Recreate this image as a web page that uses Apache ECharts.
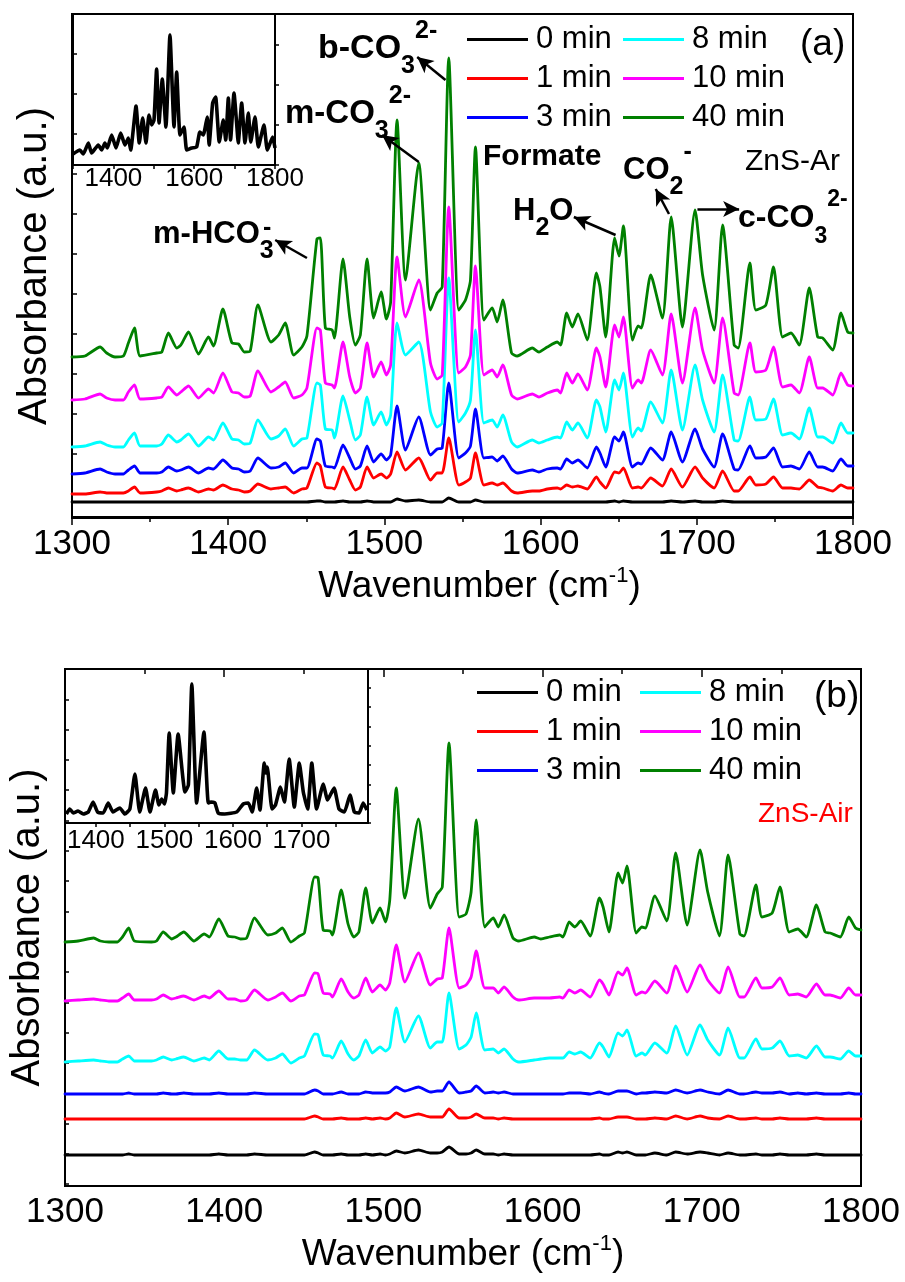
<!DOCTYPE html>
<html>
<head>
<meta charset="utf-8">
<title>In situ DRIFTS spectra of ZnS</title>
<script src="https://cdn.jsdelivr.net/npm/echarts@6.0.0/dist/echarts.min.js"></script>
<style>
  html, body { margin: 0; padding: 0; background: #ffffff; }
  #chart { width: 905px; height: 1282px; }
</style>
</head>
<body>
<div id="chart"></div>
<script>
// Wavenumber sampling (cm-1) shared by every spectrum of both panels.
const wavenumber = [
  1300, 1308.3, 1318, 1322.2, 1327.6, 1332.9, 1336.1, 1340, 1343.6, 1354.3,
  1357.5, 1361.7, 1367.1, 1369.7, 1374.6, 1381, 1387.4, 1390.6, 1396.6, 1402.4,
  1406.6, 1410.3, 1414.1, 1419, 1427.4, 1432.3, 1436.5, 1441.9, 1447.2, 1450.4,
  1456.8, 1459, 1462.2, 1466.5, 1468, 1473.5, 1477.8, 1481.4, 1484.6, 1488.9,
  1493.1, 1497.9, 1501.3, 1504, 1508.1, 1513.5, 1522, 1529.5, 1533.8, 1537,
  1541.2, 1547.6, 1551.9, 1555.1, 1558.3, 1563.7, 1569, 1572.2, 1575.8, 1581.4,
  1585, 1594.7, 1598.9, 1604.3, 1610.7, 1612.8, 1616.7, 1620.3, 1623.9, 1629.9,
  1635.7, 1638, 1641.7, 1647.4, 1650.2, 1653, 1658.8, 1662.4, 1664.5, 1670.5,
  1678, 1683.6, 1690.8, 1698.9, 1703.7, 1711.1, 1716.5, 1723.9, 1726.5, 1734,
  1737.8, 1744.2, 1749.1, 1754.9, 1760.3, 1765.6, 1772, 1777.4, 1780.6, 1787,
  1792.3, 1796.6, 1800
];

// ZnS-Ar: absorbance (arbitrary units, spectra stacked with an offset).
const ar0min = [
  15,15,15,15,15,15,15,15,15,15, 15,15,15,15,15,15,15,15,15,15,
  15,15,15,15,15,15,15,15,15,15, 16,16,15,15,15,16,15,15,15,16,
  15,15,15,15,18,16,17,15,15,15, 19,15,15,15,17,15,15,15,15,15,
  15,15,15,15,15,15,15,15,15,15, 15,15,15,16,15,16,15,15,15,15,
  15,16,15,16,15,15,16,15,15,15, 15,15,15,15,15,15,15,15,15,15,
  15,15,15
];
const ar1min = [
  23,23,25,24,24,24,26,30,24,25, 26,29,26,27,29,25,28,27,32,28,
  27,25,26,33,28,29,30,24,28,29, 54,51,30,29,28,50,37,27,30,50,
  39,43,39,43,65,47,59,37,44,44, 79,32,35,39,64,32,34,32,34,26,
  24,26,26,28,29,28,32,30,31,28, 40,35,29,45,44,49,29,30,29,39,
  31,48,30,50,39,29,46,26,26,40, 32,33,40,29,29,28,37,30,29,26,
  32,29,29
];
const ar3min = [
  43,44,48,45,43,43,47,51,44,44, 45,50,46,47,50,44,49,48,57,49,
  48,45,46,59,49,50,54,44,49,49, 78,76,51,50,49,72,59,48,51,71,
  55,63,57,62,111,67,100,62,68,69, 134,59,64,71,108,59,60,56,61,48,
  44,47,45,48,49,48,58,54,57,49, 70,64,50,80,76,85,50,54,53,69,
  57,85,55,88,68,50,83,48,47,71, 59,60,69,50,51,48,65,50,50,46,
  58,51,51
];
const ar8min = [
  70,71,75,72,70,70,77,84,71,71, 73,82,75,77,83,71,80,77,94,78,
  77,73,74,97,78,81,88,71,78,79, 134,132,88,87,79,121,97,77,82,120,
  92,105,92,102,194,162,175,105,90,94, 239,95,104,117,187,94,97,90,102,75,
  70,77,74,77,80,79,95,87,94,79, 117,110,85,137,127,144,80,89,86,115,
  94,147,87,152,117,85,142,77,76,120, 97,98,118,82,84,78,109,80,80,74,
  94,84,84
];
const ar10min = [
  117,118,123,119,117,117,125,132,118,119, 120,130,122,125,131,119,128,124,144,125,
  124,120,121,146,125,130,135,119,122,129, 189,187,134,132,129,175,140,124,129,174,
  140,155,142,152,260,200,237,154,138,142, 310,144,150,162,251,142,147,140,152,122,
  118,123,120,124,127,124,144,134,143,127, 169,160,130,192,180,200,129,137,134,167,
  142,203,134,209,167,134,199,124,122,174, 145,147,170,130,132,124,160,129,129,122,
  144,132,131
];
const ar40min = [
  160,161,170,164,160,161,174,189,161,164, 165,184,169,172,185,163,180,171,208,174,
  173,165,166,212,175,182,194,162,170,181, 278,279,189,187,179,258,200,172,182,258,
  199,225,198,215,397,237,354,207,224,230, 459,207,217,237,370,197,209,195,217,164,
  161,169,165,170,175,172,204,190,203,177, 244,230,180,279,261,291,177,191,189,242,
  199,300,190,307,242,187,292,172,169,254, 207,212,250,180,184,172,229,180,179,167,
  204,185,184
];

// ZnS-Air: absorbance (arbitrary units, spectra stacked with an offset).
const air0min = [
  37,37,37,37,37,37,37,38,37,37, 37,37,37,37,37,37,37,37,38,37,
  37,37,37,38,37,37,37,37,37,37, 40,39,37,37,37,38,37,37,37,38,
  37,38,37,38,41,39,42,39,39,40, 45,38,38,39,42,38,38,37,38,37,
  37,37,37,37,37,37,37,37,37,37, 38,37,37,40,39,40,37,37,37,39,
  37,40,38,40,39,37,39,37,37,38, 37,37,38,37,37,37,38,37,37,37,
  37,37,37
];
const air1min = [
  73,73,73,73,73,73,73,73,73,73, 73,73,73,73,73,73,73,73,73,73,
  73,73,73,73,73,73,73,73,73,73, 76,75,73,73,73,74,73,73,73,74,
  73,74,73,74,79,75,78,75,75,75, 83,74,74,75,78,74,74,73,74,73,
  73,73,73,73,73,73,73,73,73,73, 74,73,73,75,75,75,73,73,73,74,
  73,76,73,76,74,73,76,73,73,74, 73,73,74,73,73,73,74,73,73,73,
  73,73,73
];
const air3min = [
  98,98,98,98,98,98,98,99,98,98, 98,99,98,98,99,98,98,98,99,98,
  98,98,98,99,98,98,98,98,98,98, 102,101,98,98,98,100,98,98,98,100,
  99,99,99,100,105,101,105,100,101,101, 110,99,100,101,106,99,100,99,100,98,
  98,98,98,98,98,98,99,99,99,98, 100,99,98,101,101,101,98,99,99,100,
  99,102,99,102,100,98,102,98,98,100, 99,99,100,98,99,98,99,98,98,98,
  99,98,98
];
const air8min = [
  130,131,132,131,130,130,133,136,131,131, 132,135,132,133,135,131,134,132,141,133,
  133,132,132,142,132,134,138,129,134,136, 158,157,137,136,134,151,138,132,136,152,
  139,145,141,145,184,150,176,144,150,150, 199,143,147,155,179,142,143,139,143,133,
  130,132,133,134,134,134,140,138,140,134, 149,145,135,159,156,162,136,139,137,149,
  139,166,137,167,152,137,164,134,134,153, 143,144,151,136,137,134,146,135,135,133,
  141,136,136
];
const air10min = [
  191,192,193,192,191,191,194,198,192,192, 193,197,193,194,196,192,196,194,201,193,
  193,191,192,202,192,195,199,191,196,197, 219,218,199,198,195,213,200,194,197,214,
  200,207,202,209,247,210,239,207,213,214, 264,204,207,215,241,204,204,199,205,195,
  192,194,194,194,195,194,202,199,202,195, 212,208,197,220,217,224,197,200,199,211,
  199,226,200,227,212,199,225,195,195,214, 204,205,214,197,198,195,208,197,197,194,
  204,197,197
];
const air40min = [
  250,251,254,251,250,250,255,264,251,250, 251,260,253,255,260,251,258,255,273,256,
  255,253,254,274,257,259,264,250,256,259, 315,314,262,261,257,302,268,255,260,304,
  269,284,270,292,404,294,373,284,298,305, 449,275,278,300,372,265,274,265,277,254,
  251,255,253,255,257,255,270,265,271,256, 294,285,260,319,309,326,259,265,264,296,
  271,339,267,342,300,256,337,258,256,307, 275,279,305,260,263,255,287,260,259,255,
  275,264,262
];

// Inset spectra (arbitrary units).
const insetArWavenumber = [
  1300,1317,1325.5,1338,1346,1362.6,1371,1379,1385,1395.7,
  1406.4,1418,1428.7,1437,1442.8,1456,1464,1472.5,1480.7,1488,
  1494.7,1500.5,1507,1513,1521,1530,1540,1550,1556.6,1564.8,
  1574.7,1581.4,1593.8,1606,1614,1622.5,1632.4,1637,1645.7,1653,
  1662,1672,1678,1684.5,1690,1698.5,1705,1709,1717.5,1725.7,
  1734,1740,1750.5,1758.7,1772.7,1781,1794.2,1800
];
const insetArAbsorbance = [
  11,15,11,22,12,20,15,22,17,30,
  17,32,20,27,15,59,22,47,22,50,
  40,45,96,42,86,38,130,38,93,30,
  38,15,17,18,33,30,48,20,62,68,
  23,45,25,67,25,72,42,22,62,22,
  52,23,48,18,40,15,28,17
];
const insetAirWavenumber = [
  1357,1362,1367,1374,1381.5,1389,1396,1402.5,1410.7,1418,
  1425,1435,1442.3,1449.6,1457,1464,1472.5,1479,1487,1492,
  1496,1500,1503,1507,1513,1520,1530,1535,1540,1547,
  1557.7,1564,1568,1573.7,1578.5,1588,1605.4,1615,1622.5,1628,
  1634.6,1639.4,1645.7,1648,1650,1657,1662,1669.3,1675,1682,
  1689.5,1696.8,1702.6,1709,1715,1722,1731.8,1738,1747.5,1754.7,
  1762.5,1770.8,1777,1784,1790,1795.4
];
const insetAirAbsorbance = [
  9,14,10,12,9,11,21,11,10,20,
  11,15,9,14,49,11,35,11,33,18,
  24,19,30,90,30,89,31,38,139,20,
  91,20,21,20,10,9,11,19,20,11,
  35,13,60,50,56,14,18,36,21,64,
  16,60,31,14,60,14,39,23,35,14,
  11,28,11,10,20,13
];

// Axis tick labels.
const mainTicks = [1300, 1400, 1500, 1600, 1700, 1800];
const insetArTickLabels = [1400, 1600, 1800];
const insetArTicks = [1300, 1400, 1500, 1600, 1700, 1800];
const insetAirTickLabels = [1400, 1500, 1600, 1700];
const insetAirTicks = [1400, 1450, 1500, 1550, 1600, 1650, 1700, 1750];

// Series names (exposure time) and their line colours.
const timeLabels = ['0 min', '1 min', '3 min', '8 min', '10 min', '40 min'];
const lineColors = ['#000000', '#ff0000', '#0000ff', '#00ffff', '#ff00ff', '#008000'];
const arSpectra = [ar0min, ar1min, ar3min, ar8min, ar10min, ar40min];
const airSpectra = [air0min, air1min, air3min, air8min, air10min, air40min];

// Band assignments in the ZnS-Ar panel: arrow tail and head in data coordinates.
const bandArrows = [
  { from: [1539.1, 437], to: [1521, 460] },
  { from: [1522, 355], to: [1498.5, 382] },
  { from: [1450.4, 259], to: [1430.1, 277] },
  { from: [1648, 282], to: [1621.3, 300] },
  { from: [1682.2, 303], to: [1673.7, 328] },
  { from: [1700.4, 308], to: [1727.1, 308] }
];

const SANS = "'Liberation Sans', Arial, sans-serif";
const BLACK = '#000000';
const plainNumber = function (v) { return String(v); };

function pairs(xs, ys) { return xs.map((x, i) => [x, ys[i]]); }

function spectrum(name, color, values, xi, yi, extra) {
  return Object.assign({
    type: 'line', name: name, xAxisIndex: xi, yAxisIndex: yi,
    data: pairs(wavenumber, values),
    symbol: 'none', showSymbol: false, silent: true, smooth: 0.2,
    lineStyle: { color: color, width: 2.8, join: 'round', cap: 'round' },
    itemStyle: { color: color }
  }, extra || {});
}

const series = [];
timeLabels.forEach((t, i) => {
  const extra = (i === timeLabels.length - 1) ? {
    markLine: {
      silent: true, symbol: ['none', 'arrow'], symbolSize: [12, 16],
      lineStyle: { color: BLACK, width: 2.5, type: 'solid' },
      label: { show: false }, emphasis: { disabled: true },
      data: bandArrows.map(a => [{ coord: a.from }, { coord: a.to }])
    }
  } : null;
  series.push(spectrum(t, lineColors[i], arSpectra[i], 0, 0, extra));
});
timeLabels.forEach((t, i) => {
  series.push(spectrum(t, lineColors[i], airSpectra[i], 2, 4));
});
series.push({
  type: 'line', name: 'ZnS-Ar inset', xAxisIndex: 1, yAxisIndex: 2,
  data: pairs(insetArWavenumber, insetArAbsorbance), symbol: 'none', silent: true, smooth: 0.15,
  lineStyle: { color: BLACK, width: 3.6, join: 'round' }, itemStyle: { color: BLACK }
});
series.push({
  type: 'line', name: 'ZnS-Air inset', xAxisIndex: 3, yAxisIndex: 6,
  data: pairs(insetAirWavenumber, insetAirAbsorbance), symbol: 'none', silent: true, smooth: 0.15,
  lineStyle: { color: BLACK, width: 3.6, join: 'round' }, itemStyle: { color: BLACK }
});

const frame = { show: true, borderColor: BLACK, borderWidth: 2, backgroundColor: 'transparent' };
const tickLine = { color: BLACK, width: 1.5 };
const hidden = { show: false };

function mainXAxis(gridIndex, nameShift) {
  return {
    gridIndex: gridIndex, type: 'value', min: mainTicks[0], max: mainTicks[mainTicks.length - 1], interval: 100,
    axisLine: { show: true, lineStyle: { color: BLACK, width: 2 } },
    axisTick: { show: true, inside: false, length: 8, lineStyle: tickLine },
    minorTick: { show: true, splitNumber: 2, length: 5, lineStyle: tickLine },
    splitLine: hidden, minorSplitLine: hidden,
    axisLabel: {
      margin: 9, fontSize: 35, fontFamily: SANS, color: BLACK,
      showMinLabel: true, showMaxLabel: true, formatter: plainNumber
    },
    name: '{t|Wavenumber (cm}{s|-1}{t|)}', nameLocation: 'middle', nameGap: 47,
    nameTextStyle: {
      color: BLACK, padding: [0, 0, 0, nameShift],
      rich: {
        t: { fontSize: 37, fontFamily: SANS, color: BLACK, lineHeight: 44 },
        s: { fontSize: 22, fontFamily: SANS, color: BLACK, lineHeight: 30, verticalAlign: 'top' }
      }
    }
  };
}

function insetXAxis(gridIndex, min, max, ticks, labels, fontSize, margin) {
  return {
    gridIndex: gridIndex, type: 'value', min: min, max: max,
    axisLine: { show: true, lineStyle: { color: BLACK, width: 2 } },
    axisTick: { show: true, inside: false, length: 4, customValues: ticks, lineStyle: tickLine },
    splitLine: hidden,
    axisLabel: {
      customValues: labels, margin: margin, fontSize: fontSize, fontFamily: SANS, color: BLACK,
      formatter: plainNumber, hideOverlap: false
    }
  };
}

function dataYAxis(gridIndex, min, max, withName) {
  const ax = {
    gridIndex: gridIndex, type: 'value', min: min, max: max, position: 'left',
    axisLine: hidden, axisTick: hidden, axisLabel: hidden, splitLine: hidden
  };
  if (withName) {
    Object.assign(ax, {
      name: 'Absorbance (a.u.)', nameLocation: 'middle', nameRotate: 90, nameGap: 17,
      nameTextStyle: { fontSize: 40, fontFamily: SANS, color: BLACK }
    });
  }
  return ax;
}

// Tick-only axes: counted from the top edge so the marks line up with the frame.
function tickYAxis(gridIndex, max, position, inside, length) {
  return {
    gridIndex: gridIndex, type: 'value', min: 0, max: max, interval: 1, position: position,
    inverse: position === 'left',
    axisLine: hidden, axisLabel: hidden, splitLine: hidden,
    axisTick: { show: true, inside: inside, length: length, lineStyle: tickLine }
  };
}

function legendColumn(names, left, top) {
  return {
    data: names, orient: 'vertical', left: left, top: top, padding: 0,
    icon: 'rect', itemWidth: 61, itemHeight: 3, itemGap: 8, selectedMode: false,
    textStyle: { fontSize: 31, fontFamily: SANS, color: BLACK, lineHeight: 30, padding: [0, 0, 0, 3] }
  };
}

function boldRich(size, small) {
  const base = { fontWeight: 'bold', fontFamily: SANS, fill: BLACK, color: BLACK };
  return {
    m: Object.assign({ fontSize: size, lineHeight: 60 }, base),
    sub: Object.assign({ fontSize: small, lineHeight: 36, verticalAlign: 'bottom' }, base),
    sup: Object.assign({ fontSize: small, lineHeight: 36, verticalAlign: 'top' }, base)
  };
}

const bandLabels = [
  { text: '{m|b-CO}{sub|3}{sup|2-}', x: 318, y: 49, size: 34, small: 25 },
  { text: '{m|m-CO}{sub|3}{sup|2-}', x: 285, y: 114, size: 33, small: 25 },
  { text: '{m|m-HCO}{sub|3}', x: 153, y: 234, size: 31, small: 25 },
  { text: '{sup|-}', x: 263, y: 234, size: 31, small: 25 },
  { text: '{m|Formate}', x: 483, y: 157, size: 30, small: 25 },
  { text: '{m|H}{sub|2}{m|O}', x: 513, y: 211, size: 31, small: 25 },
  { text: '{m|CO}{sub|2}{sup|-}', x: 623, y: 170, size: 31, small: 25 },
  { text: '{m|c-CO}{sub|3}{sup|2-}', x: 738, y: 218, size: 32, small: 23 }
];

function plainText(text, x, y, size, color) {
  return {
    type: 'text', x: x, y: y, silent: true, z: 100,
    style: {
      text: text, fontSize: size, fontFamily: SANS, fill: color,
      align: 'left', verticalAlign: 'middle', textAlign: 'left', textVerticalAlign: 'middle'
    }
  };
}

const graphic = bandLabels.map(a => ({
  type: 'text', x: a.x, y: a.y, silent: true, z: 100,
  style: {
    text: a.text, rich: boldRich(a.size, a.small), fontSize: a.size, fontWeight: 'bold', fontFamily: SANS, fill: BLACK,
    align: 'left', verticalAlign: 'middle', textAlign: 'left', textVerticalAlign: 'middle'
  }
}));
graphic.push(plainText('ZnS-Ar', 745, 162, 30, BLACK));
graphic.push(plainText('(a)', 800, 45, 37, BLACK));
graphic.push(plainText('(b)', 814, 697, 37, BLACK));
graphic.push(plainText('ZnS-Air', 758, 814, 28, '#ff0000'));

const option = {
  animation: false,
  backgroundColor: '#ffffff',
  textStyle: { fontFamily: SANS },
  grid: [
    Object.assign({ left: 72, top: 14, width: 781, height: 504 }, frame),
    Object.assign({ left: 73, top: 14, width: 202, height: 151 }, frame),
    Object.assign({ left: 65, top: 669, width: 796, height: 517 }, frame),
    Object.assign({ left: 65, top: 669, width: 303, height: 154 }, frame)
  ],
  xAxis: [
    mainXAxis(0, 34),
    insetXAxis(1, 1300, 1800, insetArTicks, insetArTickLabels, 26, 1),
    mainXAxis(2, 0),
    insetXAxis(3, 1355, 1797, insetAirTicks, insetAirTickLabels, 26, 5)
  ],
  yAxis: [
    dataYAxis(0, -1, 503, true),
    tickYAxis(0, 12.6, 'left', true, 5),
    dataYAxis(1, 0, 151, false),
    tickYAxis(1, 3.775, 'right', false, 4),
    dataYAxis(2, 6, 523, true),
    tickYAxis(2, 17.06, 'left', true, 4),
    dataYAxis(3, 0, 154, false),
    tickYAxis(3, 7.98, 'right', false, 3)
  ],
  legend: [
    legendColumn(timeLabels.slice(0, 3), 467, 24),
    legendColumn(timeLabels.slice(3), 623, 24),
    legendColumn(timeLabels.slice(0, 3), 477, 677),
    legendColumn(timeLabels.slice(3), 640, 677)
  ],
  graphic: graphic,
  series: series
};

const chart = echarts.init(document.getElementById('chart'), null, { renderer: 'canvas' });
chart.setOption(option);
</script>
</body>
</html>
